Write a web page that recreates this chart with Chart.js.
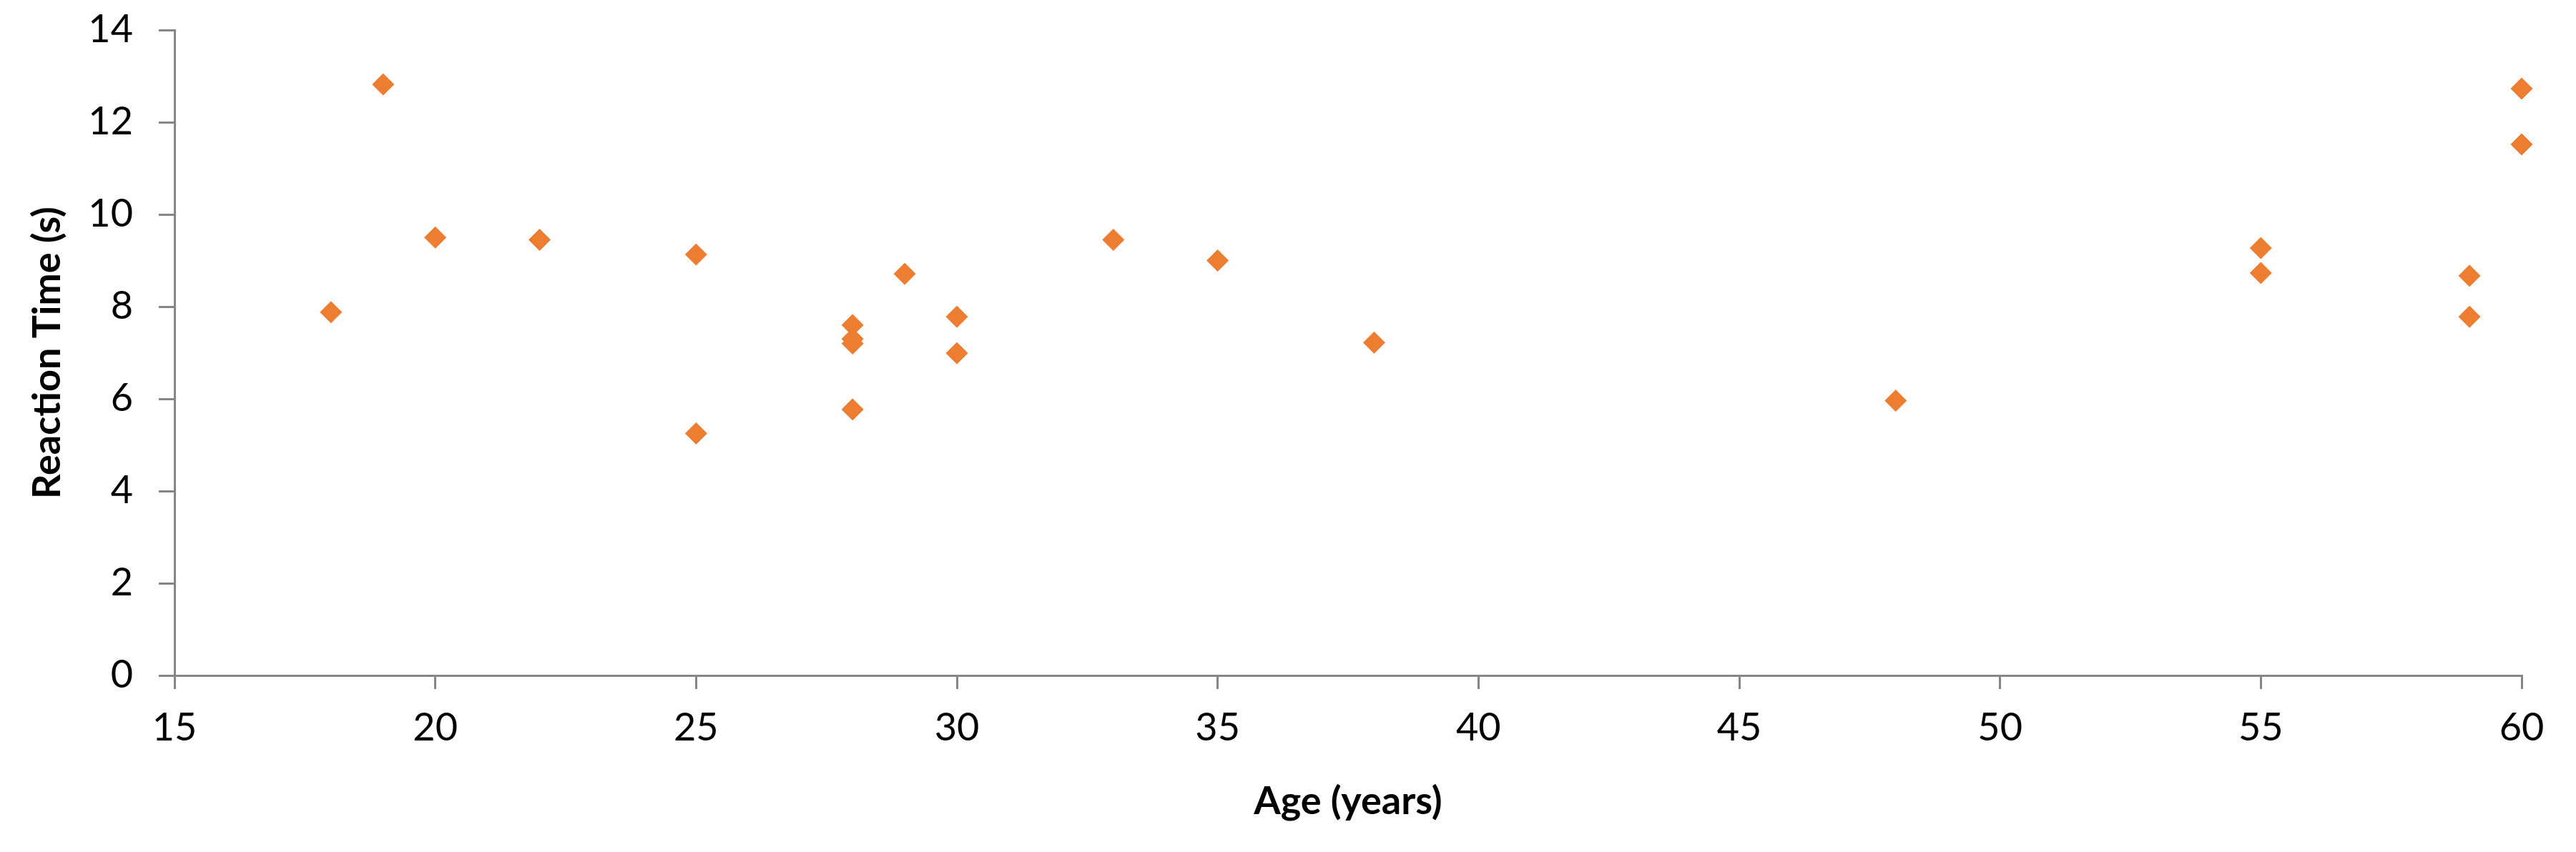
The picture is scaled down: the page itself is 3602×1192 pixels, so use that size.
<!DOCTYPE html>
<html>
<head>
<meta charset="utf-8">
<script src="https://cdn.jsdelivr.net/npm/chart.js@4.4.0/dist/chart.umd.min.js"></script>
<style>
  html, body { margin: 0; padding: 0; background: #ffffff; }
  #grafico { display: block; }
</style>
</head>
<body>
<canvas id="grafico" width="3602" height="1192"></canvas>
<script>
// dados
const idades = [18, 19, 20, 22, 25, 25, 28, 28, 28, 28, 29, 30, 30, 33, 35, 38, 48, 55, 55, 59, 59, 60, 60];
const temposReacao = [7.88, 12.82, 9.5, 9.45, 9.13, 5.25, 7.6, 7.3, 7.2, 5.77, 8.71, 7.78, 6.99, 9.45, 9.0, 7.22, 5.96, 9.27, 8.73, 8.67, 7.78, 12.73, 11.52];

const tituloX = 'Age (years)';
const tituloY = 'Reaction Time (s)';

const pontos = idades.map((idade, i) => ({ x: idade, y: temposReacao[i] }));

const corEixo = '#868686';
const fonte = 'Lato, "Open Sans", sans-serif';

var ctx = document.getElementById('grafico').getContext('2d');
var grafico = new Chart(ctx, {
    type: 'scatter',
    data: {
        datasets: [{
            data: pontos,
            pointStyle: 'rectRot',
            pointRadius: 15,
            backgroundColor: '#ED7D31',
            borderColor: '#ED7D31',
            borderWidth: 1,
            clip: false // os pontos em 60 não podem ser cortados
        }]
    },
    options: {
        responsive: false,
        animation: false,
        events: [],
        layout: { padding: { top: 42, right: 76, left: 0, bottom: 0 } },
        plugins: {
            legend: { display: false },
            tooltip: { enabled: false }
        },
        scales: {
            x: {
                type: 'linear',
                min: 15,
                max: 60,
                afterFit: (s) => {
                    s.height = 247;
                    s.paddingLeft = 0;
                    s.paddingRight = 0;
                },
                ticks: {
                    stepSize: 5,
                    color: '#000000',
                    padding: 22,
                    font: { family: fonte, size: 54 }
                },
                grid: {
                    drawOnChartArea: false,
                    color: corEixo,
                    lineWidth: 3,
                    tickLength: 19
                },
                border: { color: corEixo, width: 3 },
                title: {
                    display: true,
                    text: tituloX,
                    color: '#000000',
                    padding: { top: 0, bottom: 38 },
                    font: { family: fonte, size: 54, weight: 'bold' }
                }
            },
            y: {
                min: 0,
                max: 14,
                afterFit: (s) => {
                    s.width = 244;
                    s.paddingTop = 0;
                    s.paddingBottom = 0;
                },
                ticks: {
                    stepSize: 2,
                    color: '#000000',
                    padding: 36,
                    font: { family: fonte, size: 54 }
                },
                grid: {
                    drawOnChartArea: false,
                    color: corEixo,
                    lineWidth: 3,
                    tickLength: 22
                },
                border: { color: corEixo, width: 3 },
                title: {
                    display: true,
                    text: tituloY,
                    color: '#000000',
                    padding: { top: 34, bottom: 0 },
                    font: { family: fonte, size: 54, weight: 'bold' }
                }
            }
        }
    }
});
</script>
</body>
</html>
